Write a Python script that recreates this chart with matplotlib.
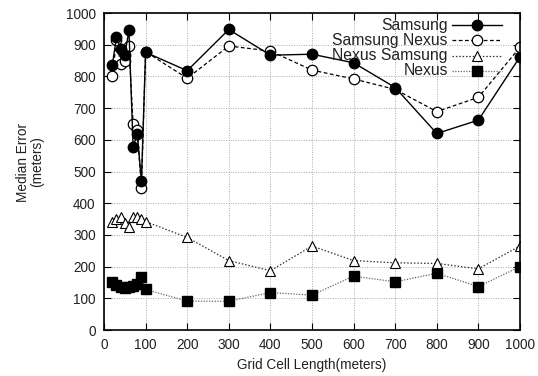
import matplotlib
matplotlib.use("Agg")
import matplotlib.pyplot as plt
from matplotlib.lines import Line2D

plt.rcParams['font.family'] = ['Liberation Sans', 'DejaVu Sans']

# Grid cell lengths (meters)
cell_length = [20, 30, 40, 50, 60, 70, 80, 90, 100,
               200, 300, 400, 500, 600, 700, 800, 900, 1000]

# Median error (meters) per training/testing device combination
samsung = [835, 925, 888, 868, 945, 578, 618, 470, 876,
           818, 948, 867, 870, 843, 765, 620, 662, 862]
samsung_nexus = [800, 915, 840, 848, 895, 650, 630, 448, 878,
                 794, 896, 880, 820, 792, 759, 689, 734, 892]
nexus_samsung = [340, 350, 355, 338, 326, 357, 355, 350, 342,
                 292, 219, 187, 265, 219, 212, 210, 193, 265]
nexus = [152, 142, 136, 134, 137, 140, 145, 166, 128,
         91, 91, 118, 110, 170, 152, 179, 137, 200]

labels = ["Samsung", "Samsung Nexus", "Nexus Samsung", "Nexus"]
series = [samsung, samsung_nexus, nexus_samsung, nexus]

styles = [
    dict(color="black", ls="-", lw=1.0, marker="o", ms=7.5,
         mfc="black", mec="black"),
    dict(color="black", ls=(0, (3, 2)), lw=0.9, marker="o", ms=7.5,
         mfc="white", mec="black", mew=0.9),
    dict(color="#333333", ls=(0, (1.2, 1.5)), lw=0.9, marker="^", ms=7,
         mfc="white", mec="black", mew=0.8),
    dict(color="#666666", ls=(0, (1, 1.2)), lw=0.9, marker="s", ms=7,
         mfc="black", mec="black"),
]

fig = plt.figure(figsize=(5.38, 3.76), dpi=100)
ax = fig.add_axes([0.1933, 0.1223, 0.7732, 0.8431])

# draw bottom series first so the Samsung line sits on top
for vals, st in reversed(list(zip(series, styles))):
    ax.plot(cell_length, vals, **st)

ax.set_xlim(0, 1000)
ax.set_ylim(0, 1000)
ax.set_xticks(range(0, 1001, 100))
ax.set_yticks(range(0, 1001, 100))
ax.tick_params(direction="in", top=True, right=True, length=5,
               width=0.8, labelsize=9.8, pad=6, colors="black",
               labelcolor="#222222")
ax.grid(True, color="#aaaaaa", ls=(0, (1, 1.5)), lw=0.7)
for sp in ax.spines.values():
    sp.set_linewidth(1.2)

ax.set_xlabel("Grid Cell Length(meters)", fontsize=9.8, labelpad=4,
              color="#222222")
fig.text(30 / 538, 1 - 162 / 376, "Median Error\n(meters)", rotation=90,
         ha="center", va="center", fontsize=9.8, linespacing=1.0,
         color="#222222")

# legend: right-aligned labels with line samples to their right
y0 = 1 - (25 - 13) / 317
dy = 15.3 / 317
x_text = (448 - 104) / 416
x_l0, x_l1, x_m = (452 - 104) / 416, (502 - 104) / 416, (477 - 104) / 416
for i, (lab, st) in enumerate(zip(labels, styles)):
    y = y0 - i * dy
    ax.text(x_text, y, lab, transform=ax.transAxes, ha="right", va="center",
            fontsize=11.3, color="#222222")
    line_st = {k: v for k, v in st.items() if k not in
               ("marker", "ms", "mfc", "mec", "mew")}
    ax.add_line(Line2D([x_l0, x_l1], [y, y], transform=ax.transAxes,
                       **line_st))
    ax.add_line(Line2D([x_m], [y], transform=ax.transAxes, ls="none",
                       marker=st["marker"], ms=st["ms"], mfc=st["mfc"],
                       mec=st["mec"], mew=st.get("mew", 1.0)))

fig.savefig("out.png", dpi=100)
